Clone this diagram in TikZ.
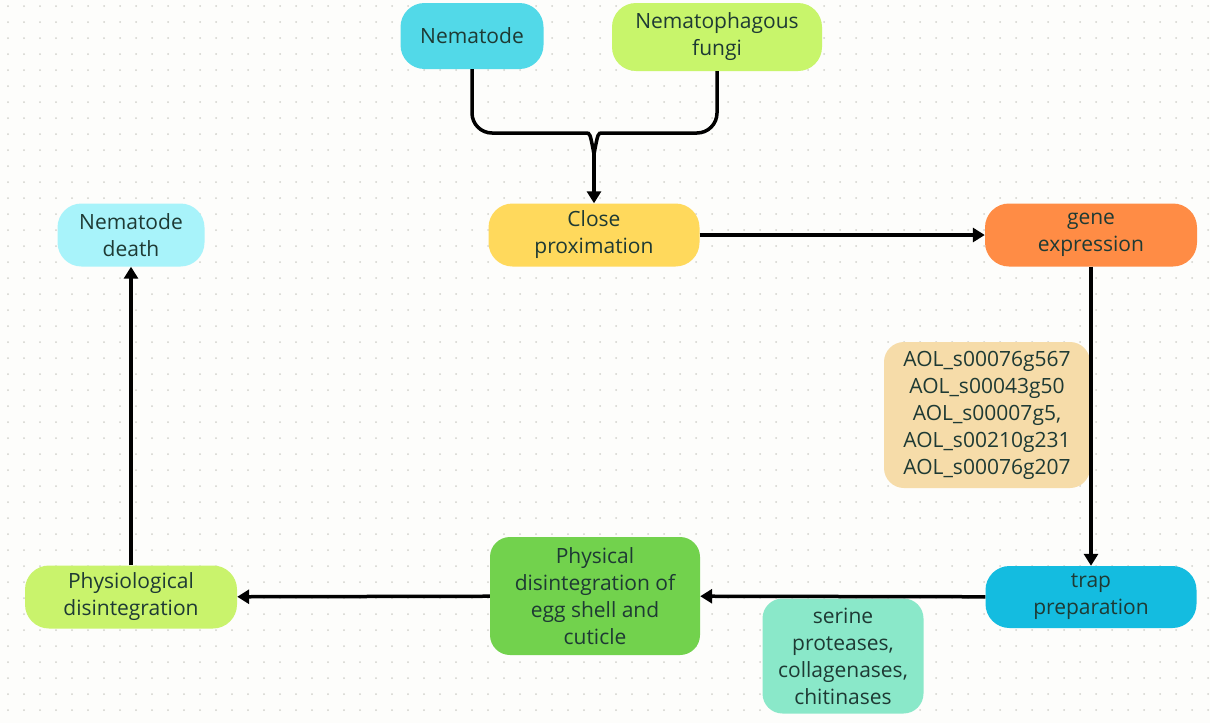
\documentclass[tikz,border=0pt]{standalone}
\usepackage{fontspec}
\setmainfont{Open Sans}
\usetikzlibrary{arrows.meta}
\definecolor{ink}{HTML}{1E3A34}
\definecolor{paper}{HTML}{FDFDFB}
\definecolor{dotc}{HTML}{D2D2CC}
\definecolor{cnem}{HTML}{52D9E8}
\definecolor{cfungi}{HTML}{C8F56B}
\definecolor{cclose}{HTML}{FFD95C}
\definecolor{cgene}{HTML}{FF8C45}
\definecolor{cdeath}{HTML}{A8F3FA}
\definecolor{caol}{HTML}{F6DCA9}
\definecolor{ctrap}{HTML}{14BCE0}
\definecolor{cenz}{HTML}{8AE8C9}
\definecolor{cphys}{HTML}{72D24D}
\definecolor{cphysio}{HTML}{C9F36C}
\tikzset{>={Triangle[length=12pt,width=14pt]}}
\tikzset{
  box/.style={rounded corners=24, inner sep=0, align=center, text=ink,
    font=\fontsize{21}{27}\selectfont},
  flow/.style={line width=3.5pt, black},
}

\begin{document}
\begin{tikzpicture}[x=1pt,y=-1pt]
                \useasboundingbox (0,0) rectangle (1210,723);
                \fill[paper] (0,0) rectangle (1210,723);
                \foreach \x in {8,24,...,1210}
                    \foreach \y in {6,22,...,723}
                        \fill[dotc] (\x,\y) circle (1pt);
                \node[box, fill=cnem, minimum width=143, minimum height=66] (nem) at (472,36) {Nematode};
                \node[box, fill=cfungi, minimum width=210, minimum height=68] (fungi) at (717,37) {Nematophagous\\fungi};
                \node[box, fill=cclose, minimum width=211, minimum height=63] (close) at (594,235) {Close\\proximation};
                \node[box, fill=cgene, minimum width=212, minimum height=63] (gene) at (1091,235) {gene\\expression};
                \node[box, fill=cdeath, minimum width=147, minimum height=63] (death) at (131,235) {Nematode\\death};
                \node[box, fill=caol, rounded corners=20, minimum width=206, minimum height=146] (aol) at (987,415) {AOL\_s00076g567\\AOL\_s00043g50\\AOL\_s00007g5,\\AOL\_s00210g231\\AOL\_s00076g207};
                \node[box, fill=ctrap, minimum width=211, minimum height=62] (trap) at (1091,597) {trap\\preparation};
                \node[box, fill=cenz, rounded corners=20, minimum width=161, minimum height=115] (enz) at (843,656) {serine\\proteases,\\collagenases,\\chitinases};
                \node[box, fill=cphys, rounded corners=20, minimum width=210, minimum height=118] (phys) at (595,596) {Physical\\disintegration of\\egg shell and\\cuticle};
                \node[box, fill=cphysio, minimum width=212, minimum height=63] (physio) at (131,597) {Physiological\\disintegration};
                \coordinate (join) at (594,154);
                \draw[flow] (nem.south) [rounded corners=20] |- (566,133) [sharp corners] .. controls (590,133) .. (join);
                \draw[flow] (fungi.south) [rounded corners=20] |- (622,133) [sharp corners] .. controls (598,133) .. (join);
                \draw[flow,->] (join) -- (close.north);
                \draw[flow,->] (close) -- (gene);
                \draw[flow,->] (gene) -- (trap);
                \draw[flow,->] (trap) -- (phys);
                \draw[flow,->] (phys) -- (physio);
                \draw[flow,->] (physio) -- (death);
            \end{tikzpicture}
\end{document}
